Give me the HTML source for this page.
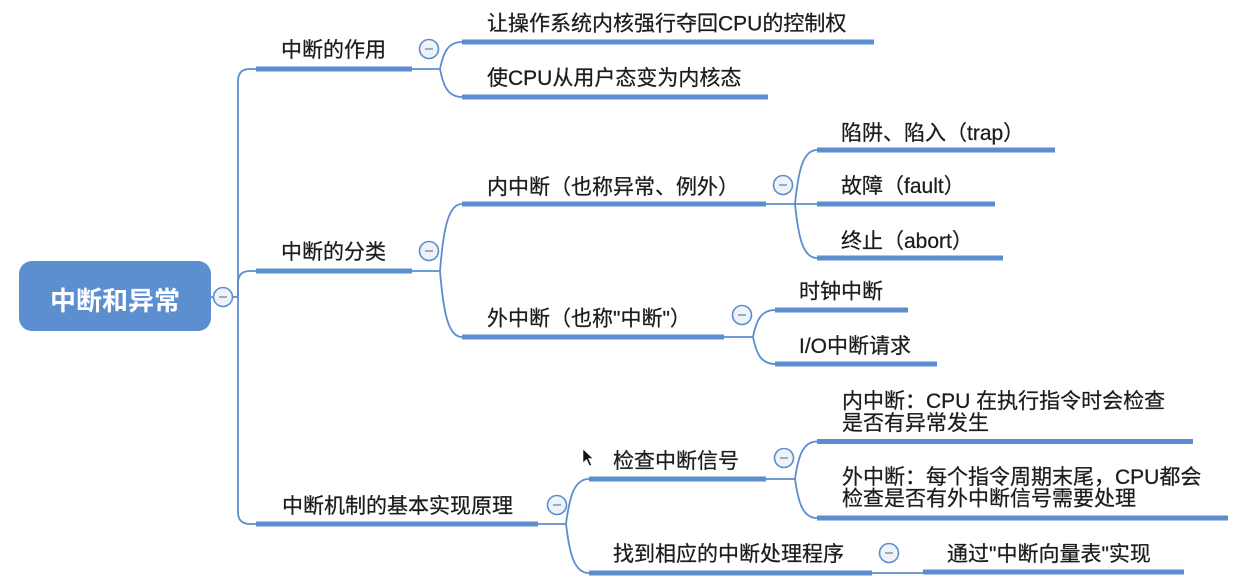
<!DOCTYPE html>
<html>
<head>
<meta charset="utf-8">
<style>
  html, body { margin: 0; padding: 0; background: #ffffff; }
  body { width: 1256px; height: 580px; overflow: hidden; }
  svg { display: block; }
  .t { font-family: "Liberation Sans", "Noto Sans CJK SC", sans-serif; font-size: 21px; fill: #1c1c1c; stroke: #1c1c1c; stroke-width: 0.25; }
  .root { font-family: "Liberation Sans", "Noto Sans CJK SC", sans-serif; font-size: 26px; font-weight: bold; fill: #ffffff; }
  .thin { fill: none; stroke: #5b8dcf; stroke-width: 1.8; }
  .thick { fill: none; stroke: #5b8dcf; stroke-width: 5; stroke-linecap: butt; }
  .c { fill: #eef2f9; stroke: #5b8dcf; stroke-width: 1.6; }
  .m { stroke: #8a9ab4; stroke-width: 1.6; }
</style>
</head>
<body>
<svg width="1256" height="580" viewBox="0 0 1256 580" xmlns="http://www.w3.org/2000/svg">
  <!-- root -->
  <rect x="19" y="261" width="192" height="70" rx="13" ry="13" fill="#5c8fd0"/>
  <text class="root" x="115" y="310" text-anchor="middle">中断和异常</text>

  <!-- trunk -->
  <path class="thin" d="M 211 297 H 238"/>
  <path class="thin" d="M 238 297 V 81 Q 238 69 250 69 H 256"/>
  <path class="thin" d="M 238 297 V 283 Q 238 271 250 271 H 256"/>
  <path class="thin" d="M 238 297 V 512 Q 238 524 250 524 H 256"/>

  <!-- level 1 underlines -->
  <line class="thick" x1="256" y1="69" x2="412" y2="69"/>
  <line class="thick" x1="256" y1="271" x2="412" y2="271"/>
  <line class="thick" x1="256" y1="524" x2="538" y2="524"/>

  <!-- 作用 children -->
  <path class="thin" d="M 412 69 H 440"/>
  <path class="thin" d="M 440 69 C 443.3 52.8, 447.7 42, 462 42"/>
  <path class="thin" d="M 440 69 C 443.3 85.8, 447.7 97, 462 97"/>
  <line class="thick" x1="462" y1="42" x2="874" y2="42"/>
  <line class="thick" x1="462" y1="97" x2="768" y2="97"/>

  <!-- 分类 children -->
  <path class="thin" d="M 412 271 H 440"/>
  <path class="thin" d="M 440 271 C 443.3 230.8, 447.7 204, 462 204"/>
  <path class="thin" d="M 440 271 C 443.3 310.6, 447.7 337, 462 337"/>
  <line class="thick" x1="462" y1="204" x2="766" y2="204"/>
  <line class="thick" x1="462" y1="337" x2="724" y2="337"/>

  <!-- 内中断 children -->
  <path class="thin" d="M 766 204 H 817"/>
  <path class="thin" d="M 795 204 C 798.3 171.6, 802.7 150, 817 150"/>
  <path class="thin" d="M 795 204 C 798.3 236.4, 802.7 258, 817 258"/>
  <line class="thick" x1="817" y1="150" x2="1055" y2="150"/>
  <line class="thick" x1="817" y1="204" x2="995" y2="204"/>
  <line class="thick" x1="817" y1="258" x2="1003" y2="258"/>

  <!-- 外中断 children -->
  <path class="thin" d="M 724 337 H 753"/>
  <path class="thin" d="M 753 337 C 756.3 320.8, 760.7 310, 775 310"/>
  <path class="thin" d="M 753 337 C 756.3 353.2, 760.7 364, 775 364"/>
  <line class="thick" x1="775" y1="310" x2="908" y2="310"/>
  <line class="thick" x1="775" y1="364" x2="937" y2="364"/>

  <!-- 机制 children -->
  <path class="thin" d="M 538 524 H 566"/>
  <path class="thin" d="M 566 524 C 569.5 497, 574 479, 589 479"/>
  <path class="thin" d="M 566 524 C 569.5 553.4, 574 573, 589 573"/>
  <line class="thick" x1="589" y1="479" x2="766" y2="479"/>
  <line class="thick" x1="589" y1="573" x2="872" y2="573"/>

  <!-- 检查 children -->
  <path class="thin" d="M 766 479 H 795"/>
  <path class="thin" d="M 795 479 C 798.3 456.5, 802.7 441.5, 817 441.5"/>
  <path class="thin" d="M 795 479 C 798.3 502.4, 802.7 518, 817 518"/>
  <line class="thick" x1="817" y1="441.5" x2="1193" y2="441.5"/>
  <line class="thick" x1="817" y1="518" x2="1228" y2="518"/>

  <!-- 找到 child -->
  <path class="thin" d="M 872 573 H 923"/>
  <line class="thick" x1="923" y1="572" x2="1184" y2="572"/>

  <!-- collapse circles -->
  <g>
    <circle class="c" cx="223" cy="297" r="9.5"/><line class="m" x1="219" y1="297" x2="227" y2="297"/>
    <circle class="c" cx="429" cy="49" r="9.5"/><line class="m" x1="425" y1="49" x2="433" y2="49"/>
    <circle class="c" cx="429" cy="251" r="9.5"/><line class="m" x1="425" y1="251" x2="433" y2="251"/>
    <circle class="c" cx="557" cy="505" r="9.5"/><line class="m" x1="553" y1="505" x2="561" y2="505"/>
    <circle class="c" cx="783" cy="185" r="9.5"/><line class="m" x1="779" y1="185" x2="787" y2="185"/>
    <circle class="c" cx="742" cy="315" r="9.5"/><line class="m" x1="738" y1="315" x2="746" y2="315"/>
    <circle class="c" cx="784" cy="458" r="9.5"/><line class="m" x1="780" y1="458" x2="788" y2="458"/>
    <circle class="c" cx="889" cy="553" r="9.5"/><line class="m" x1="885" y1="553" x2="893" y2="553"/>
  </g>

  <!-- labels -->
  <text class="t" x="281" y="57">中断的作用</text>
  <text class="t" x="281" y="259">中断的分类</text>
  <text class="t" x="282" y="513">中断机制的基本实现原理</text>

  <text class="t" x="487" y="30.5">让操作系统内核强行夺回CPU的控制权</text>
  <text class="t" x="487" y="85">使CPU从用户态变为内核态</text>
  <text class="t" x="487" y="194">内中断（也称异常、例外）</text>
  <text class="t" x="487" y="325.5">外中断（也称"中断"）</text>

  <text class="t" x="841" y="140">陷阱、陷入（trap）</text>
  <text class="t" x="841" y="193">故障（fault）</text>
  <text class="t" x="841" y="248">终止（abort）</text>

  <text class="t" x="799" y="298.5">时钟中断</text>
  <text class="t" x="799" y="353">I/O中断请求</text>

  <text class="t" x="613" y="468">检查中断信号</text>
  <text class="t" x="613" y="561">找到相应的中断处理程序</text>

  <text class="t" x="842" y="408">内中断：CPU 在执行指令时会检查</text>
  <text class="t" x="842" y="430">是否有异常发生</text>
  <text class="t" x="842" y="484">外中断：每个指令周期末尾，CPU都会</text>
  <text class="t" x="842" y="505.5">检查是否有外中断信号需要处理</text>

  <text class="t" x="947" y="561">通过"中断向量表"实现</text>

  <!-- cursor -->
  <polygon points="583,449 583,463 586.5,459.5 589.5,466 591.5,465 588.5,458.5 593,458.5" fill="#111111" stroke="#ffffff" stroke-width="0.6"/>
</svg>
</body>
</html>
